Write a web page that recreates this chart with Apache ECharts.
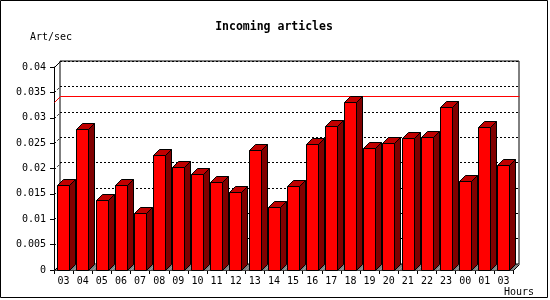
<!DOCTYPE html>
<html>
<head>
<meta charset="utf-8">
<script src="https://cdn.jsdelivr.net/npm/echarts@6/dist/echarts.min.js"></script>
<style>html,body{margin:0;padding:0;background:#fff}#c{width:550px;height:300px}</style>
</head>
<body>
<div id="c"></div>
<script>
const categories = ['03','04','05','06','07','08','09','10','11','12','13','14','15','16','17','18','19','20','21','22','23','00','01','03'];
const articlesPerSec = [0.0167, 0.0277, 0.0137, 0.0167, 0.0112, 0.0226, 0.0202, 0.0189, 0.0173, 0.0153, 0.0236, 0.0125, 0.0165, 0.0248, 0.0283, 0.0332, 0.0241, 0.0250, 0.0261, 0.0263, 0.0321, 0.0175, 0.0281, 0.0206];
const yTickValues = [0, 0.005, 0.01, 0.015, 0.02, 0.025, 0.03, 0.035, 0.04];
const yTickLabels = ['0', '0.005', '0.01', '0.015', '0.02', '0.025', '0.03', '0.035', '0.04'];
const titleText = 'Incoming articles';
const yUnit = 'Art/sec';
const xUnit = 'Hours';
const maxValue = Math.max.apply(null, articlesPerSec);

const D = 6;
const FONT = 'DejaVu Sans Mono';
const px = v => Math.round(v) + 0.5;

const chart = echarts.init(document.getElementById('c'), null, {renderer: 'canvas'});

function renderFloor(params, api) {
  const i = api.value(0);
  const c = api.coord([i, 0]);
  const bw = api.size([1, 0])[0];
  const xs = c[0] - bw / 2, xe = c[0] + bw / 2;
  const b = px(c[1]);
  const children = [{
    type: 'polygon',
    shape: {points: [[xs, b], [xs + D, b - D], [xe + D, b - D], [xe, b]]},
    style: {fill: '#808080', stroke: null}
  }];
  if (i === 0) {
    children.push({type: 'line', shape: {x1: px(xs), y1: b, x2: px(xs) + D, y2: b - D}, style: {stroke: '#000', lineWidth: 1}});
  }
  if (i === categories.length - 1) {
    children.push({type: 'line', shape: {x1: px(xe), y1: b, x2: px(xe) + D, y2: b - D}, style: {stroke: '#000', lineWidth: 1}});
  }
  return {type: 'group', children};
}

function renderBar(params, api) {
  const i = api.value(0);
  const v = api.value(1);
  const p = api.coord([i, v]);
  const p0 = api.coord([i, 0]);
  const L = px(p[0] - 6.3);
  const R = L + 12;
  const T = px(p[1]);
  const B = px(p0[1]);
  return {
    type: 'group',
    children: [
      {type: 'polygon', shape: {points: [[R, T], [R + D, T - D], [R + D, B - D], [R, B]]}, style: {fill: '#800000', stroke: '#000', lineWidth: 1}},
      {type: 'polygon', shape: {points: [[L, T], [L + D, T - D], [R + D, T - D], [R, T]]}, style: {fill: '#c00000', stroke: '#000', lineWidth: 1}},
      {type: 'rect', shape: {x: L, y: T, width: 12, height: B - T}, style: {fill: '#ff0000', stroke: '#000', lineWidth: 1}}
    ]
  };
}

function renderConnector(params, api) {
  const v = api.value(0);
  const p = api.coord([0, v]);
  const x = px(params.coordSys.x);
  const y = px(p[1]);
  const top = v >= 0.04 - 1e-9;
  if (v <= 1e-9) return null;
  return {
    type: 'line',
    shape: {x1: x, y1: y, x2: x + D, y2: y - D},
    style: {stroke: '#000', lineWidth: 1, lineDash: top ? null : [2, 2]}
  };
}

function renderMax(params, api) {
  const v = api.value(0);
  const p = api.coord([0, v]);
  const cs = params.coordSys;
  const x = px(cs.x);
  const y = px(p[1]);
  return {
    type: 'polyline',
    shape: {points: [[x, y], [x + D, y - D], [px(cs.x + cs.width) + D, y - D]]},
    style: {stroke: '#ff0000', lineWidth: 1, fill: null}
  };
}

const option = {
  animation: false,
  backgroundColor: '#fff',
  grid: [
    {left: 54, top: 67, width: 459, height: 203, containLabel: false},
    {left: 60, top: 61, width: 459, height: 203, show: true, borderColor: '#000', borderWidth: 1, backgroundColor: 'transparent', z: 0}
  ],
  xAxis: [
    {
      gridIndex: 0, type: 'category', data: categories,
      axisLine: {show: true, lineStyle: {color: '#000', width: 1}},
      axisTick: {show: true, length: 4, lineStyle: {color: '#000'}},
      axisLabel: {interval: 0, color: '#000', fontFamily: FONT, fontSize: 10, margin: 6},
      splitLine: {show: false}
    },
    {gridIndex: 1, type: 'category', data: categories, show: false}
  ],
  yAxis: [
    {
      gridIndex: 0, type: 'value', min: 0, max: 0.04, interval: 0.005,
      axisLine: {show: true, lineStyle: {color: '#000', width: 1}},
      axisTick: {show: true, length: 4, lineStyle: {color: '#000'}},
      axisLabel: {color: '#000', fontFamily: FONT, fontSize: 10, margin: 8,
        formatter: (val, idx) => yTickLabels[idx] !== undefined ? yTickLabels[idx] : ''},
      splitLine: {show: false}
    },
    {
      gridIndex: 1, type: 'value', min: 0, max: 0.04, interval: 0.005,
      axisLine: {show: false}, axisTick: {show: false}, axisLabel: {show: false},
      splitLine: {show: true, lineStyle: {color: '#000', width: 1, type: [2, 2]}}
    }
  ],
  graphic: [
    {type: 'rect', shape: {x: 0.5, y: 0.5, width: 547, height: 297}, style: {fill: null, stroke: '#000', lineWidth: 1}, z: 100},
    {type: 'text', x: 274, y: 27, style: {text: titleText, fontFamily: FONT, fontWeight: 'bold', fontSize: 11.5, fill: '#000', align: 'center', verticalAlign: 'middle'}},
    {type: 'text', x: 30, y: 37, style: {text: yUnit, fontFamily: FONT, fontSize: 10, fill: '#000', align: 'left', verticalAlign: 'middle'}},
    {type: 'text', x: 534, y: 292, style: {text: xUnit, fontFamily: FONT, fontSize: 10, fill: '#000', align: 'right', verticalAlign: 'middle'}}
  ],
  series: [
    {type: 'custom', name: 'max', xAxisIndex: 0, yAxisIndex: 0, z: 1, renderItem: renderMax, data: [[maxValue]], encode: {y: 0}, clip: false, silent: true},
    {type: 'custom', name: 'connectors', xAxisIndex: 0, yAxisIndex: 0, z: 1, renderItem: renderConnector, data: yTickValues.map(v => [v]), encode: {y: 0}, clip: false, silent: true},
    {type: 'custom', name: 'floor', xAxisIndex: 0, yAxisIndex: 0, z: 2, renderItem: renderFloor, data: categories.map((c, i) => [i]), encode: {x: 0}, clip: false, silent: true},
    {type: 'custom', name: 'Incoming articles', xAxisIndex: 0, yAxisIndex: 0, z: 3, renderItem: renderBar, data: articlesPerSec.map((v, i) => [i, v]), encode: {x: 0, y: 1}, clip: false}
  ]
};
chart.setOption(option);
</script>
</body>
</html>
